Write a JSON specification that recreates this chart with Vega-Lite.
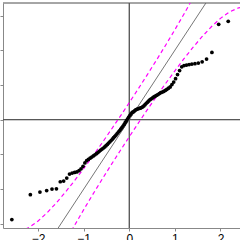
{
  "$schema": "https://vega.github.io/schema/vega-lite/v6.json",
  "autosize": {"type": "none"},
  "padding": {"left": 3, "top": 3, "right": 0, "bottom": 12},
  "width": 237,
  "height": 225,
  "background": "white",
  "view": {"stroke": null},
  "config": {
    "axis": {"grid": false, "domainColor": "#888888", "tickColor": "#888888", "tickSize": 3, "labelFont": "Liberation Sans", "labelFontSize": 12, "labelColor": "#000000", "labelPadding": 2}
  },
  "datasets": {
    "pts": [
      {"z": -2.576, "y": -1.439}, {"z": -2.170, "y": -1.081}, {"z": -1.960, "y": -1.043}, {"z": -1.812, "y": -1.021},
      {"z": -1.695, "y": -0.999}, {"z": -1.598, "y": -0.995}, {"z": -1.514, "y": -0.894}, {"z": -1.440, "y": -0.884},
      {"z": -1.372, "y": -0.841}, {"z": -1.311, "y": -0.783}, {"z": -1.254, "y": -0.769}, {"z": -1.200, "y": -0.760},
      {"z": -1.150, "y": -0.753}, {"z": -1.103, "y": -0.735}, {"z": -1.058, "y": -0.707}, {"z": -1.015, "y": -0.671},
      {"z": -0.974, "y": -0.623}, {"z": -0.935, "y": -0.591}, {"z": -0.897, "y": -0.572}, {"z": -0.860, "y": -0.554},
      {"z": -0.824, "y": -0.538}, {"z": -0.789, "y": -0.522}, {"z": -0.755, "y": -0.506}, {"z": -0.722, "y": -0.489},
      {"z": -0.690, "y": -0.473}, {"z": -0.659, "y": -0.456}, {"z": -0.628, "y": -0.438}, {"z": -0.598, "y": -0.424},
      {"z": -0.568, "y": -0.408}, {"z": -0.539, "y": -0.392}, {"z": -0.510, "y": -0.375}, {"z": -0.482, "y": -0.356},
      {"z": -0.454, "y": -0.337}, {"z": -0.426, "y": -0.319}, {"z": -0.399, "y": -0.300}, {"z": -0.372, "y": -0.281},
      {"z": -0.345, "y": -0.260}, {"z": -0.319, "y": -0.241}, {"z": -0.292, "y": -0.221}, {"z": -0.266, "y": -0.200},
      {"z": -0.240, "y": -0.179}, {"z": -0.215, "y": -0.160}, {"z": -0.189, "y": -0.137}, {"z": -0.164, "y": -0.115},
      {"z": -0.138, "y": -0.092}, {"z": -0.113, "y": -0.069}, {"z": -0.088, "y": -0.040}, {"z": -0.063, "y": -0.014},
      {"z": -0.038, "y": 0.013}, {"z": -0.013, "y": 0.037}, {"z": 0.013, "y": 0.062}, {"z": 0.038, "y": 0.082},
      {"z": 0.063, "y": 0.104}, {"z": 0.088, "y": 0.111}, {"z": 0.113, "y": 0.125}, {"z": 0.138, "y": 0.140},
      {"z": 0.164, "y": 0.149}, {"z": 0.189, "y": 0.156}, {"z": 0.215, "y": 0.161}, {"z": 0.240, "y": 0.166},
      {"z": 0.266, "y": 0.174}, {"z": 0.292, "y": 0.183}, {"z": 0.319, "y": 0.198}, {"z": 0.345, "y": 0.216},
      {"z": 0.372, "y": 0.235}, {"z": 0.399, "y": 0.252}, {"z": 0.426, "y": 0.270}, {"z": 0.454, "y": 0.288},
      {"z": 0.482, "y": 0.301}, {"z": 0.510, "y": 0.313}, {"z": 0.539, "y": 0.327}, {"z": 0.568, "y": 0.339},
      {"z": 0.598, "y": 0.350}, {"z": 0.628, "y": 0.362}, {"z": 0.659, "y": 0.376}, {"z": 0.690, "y": 0.388},
      {"z": 0.722, "y": 0.397}, {"z": 0.755, "y": 0.407}, {"z": 0.789, "y": 0.421}, {"z": 0.824, "y": 0.435},
      {"z": 0.860, "y": 0.454}, {"z": 0.897, "y": 0.472}, {"z": 0.935, "y": 0.505}, {"z": 0.974, "y": 0.541},
      {"z": 1.015, "y": 0.591}, {"z": 1.058, "y": 0.649}, {"z": 1.103, "y": 0.707}, {"z": 1.150, "y": 0.761},
      {"z": 1.200, "y": 0.779}, {"z": 1.254, "y": 0.786}, {"z": 1.311, "y": 0.793}, {"z": 1.372, "y": 0.800},
      {"z": 1.440, "y": 0.807}, {"z": 1.514, "y": 0.815}, {"z": 1.598, "y": 0.833}, {"z": 1.695, "y": 0.872},
      {"z": 1.812, "y": 0.969}, {"z": 1.960, "y": 1.373}, {"z": 2.170, "y": 1.416}, {"z": 2.576, "y": 1.560}
    ],
    "band": [
      {"z": -2.576, "lo": -3.532, "hi": -1.620}, {"z": -2.4, "lo": -3.189, "hi": -1.611},
      {"z": -2.2, "lo": -2.847, "hi": -1.553}, {"z": -2.0, "lo": -2.541, "hi": -1.459},
      {"z": -1.8, "lo": -2.262, "hi": -1.338}, {"z": -1.6, "lo": -2.002, "hi": -1.198},
      {"z": -1.4, "lo": -1.757, "hi": -1.043}, {"z": -1.2, "lo": -1.522, "hi": -0.878},
      {"z": -1.0, "lo": -1.296, "hi": -0.704}, {"z": -0.8, "lo": -1.076, "hi": -0.524},
      {"z": -0.6, "lo": -0.862, "hi": -0.338}, {"z": -0.4, "lo": -0.653, "hi": -0.147},
      {"z": -0.2, "lo": -0.447, "hi": 0.047}, {"z": 0.0, "lo": -0.246, "hi": 0.246},
      {"z": 0.2, "lo": -0.047, "hi": 0.447}, {"z": 0.4, "lo": 0.147, "hi": 0.653},
      {"z": 0.6, "lo": 0.338, "hi": 0.862}, {"z": 0.8, "lo": 0.524, "hi": 1.076},
      {"z": 1.0, "lo": 0.704, "hi": 1.296}, {"z": 1.2, "lo": 0.878, "hi": 1.522},
      {"z": 1.4, "lo": 1.043, "hi": 1.757}, {"z": 1.6, "lo": 1.198, "hi": 2.002},
      {"z": 1.8, "lo": 1.338, "hi": 2.262}, {"z": 2.0, "lo": 1.459, "hi": 2.541},
      {"z": 2.2, "lo": 1.553, "hi": 2.847}, {"z": 2.4, "lo": 1.611, "hi": 3.189},
      {"z": 2.576, "lo": 1.620, "hi": 3.532}
    ],
    "ref": [
      {"z": -3, "y": -3}, {"z": 3, "y": 3}
    ]
  },
  "encoding": {
    "x": {"type": "quantitative", "title": null, "scale": {"domain": [-2.77, 2.428], "nice": false, "zero": false},
          "axis": {"orient": "bottom", "values": [-2, -1, 0, 1, 2], "labelFlush": false, "labelOverlap": false}},
    "y": {"type": "quantitative", "title": null, "scale": {"domain": [-1.56, 1.68], "nice": false, "zero": false},
          "axis": {"orient": "left", "values": [-1.5, -1, -0.5, 0, 0.5, 1, 1.5], "labelFlush": false}}
  },
  "layer": [
    {"data": {"name": "ref"}, "mark": {"type": "rule", "color": "#888888", "strokeWidth": 1},
     "encoding": {"y": {"datum": 1.68, "type": "quantitative"}}},
    {"data": {"name": "ref"}, "mark": {"type": "rule", "color": "#555555", "strokeWidth": 1},
     "encoding": {"y": {"datum": 0, "type": "quantitative"}}},
    {"data": {"name": "ref"}, "mark": {"type": "rule", "color": "#555555", "strokeWidth": 1},
     "encoding": {"x": {"datum": 0, "type": "quantitative"}}},
    {"data": {"name": "ref"}, "mark": {"type": "line", "color": "#666666", "strokeWidth": 0.9, "clip": true},
     "encoding": {"x": {"field": "z", "type": "quantitative"}, "y": {"field": "y", "type": "quantitative"}}},
    {"data": {"name": "band"}, "mark": {"type": "line", "color": "#ff00ff", "strokeWidth": 1.2, "strokeDash": [4, 3], "clip": true},
     "encoding": {"x": {"field": "z", "type": "quantitative"}, "y": {"field": "hi", "type": "quantitative"}}},
    {"data": {"name": "band"}, "mark": {"type": "line", "color": "#ff00ff", "strokeWidth": 1.2, "strokeDash": [4, 3], "clip": true},
     "encoding": {"x": {"field": "z", "type": "quantitative"}, "y": {"field": "lo", "type": "quantitative"}}},
    {"data": {"name": "pts"}, "mark": {"type": "circle", "size": 14, "color": "#000000", "opacity": 1, "clip": true},
     "encoding": {"x": {"field": "z", "type": "quantitative"}, "y": {"field": "y", "type": "quantitative"}}}
  ]
}
